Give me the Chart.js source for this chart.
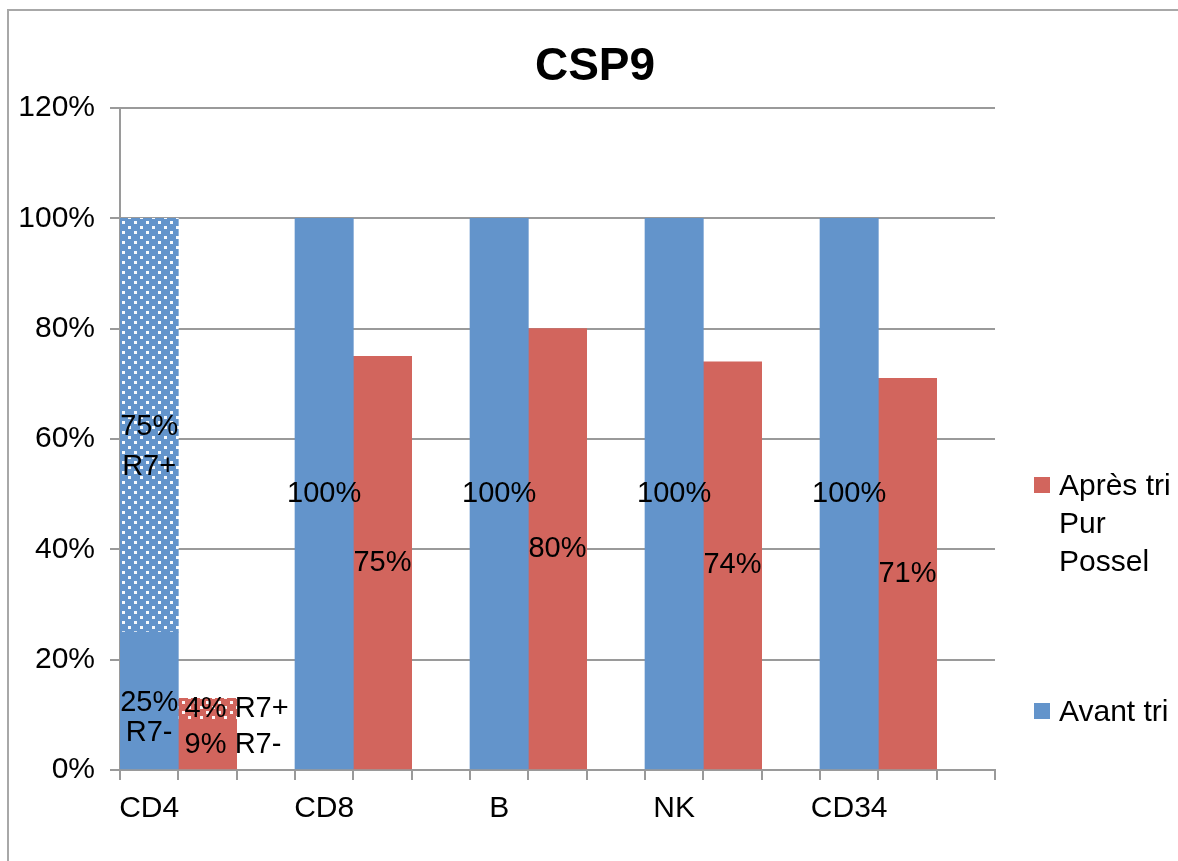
<!DOCTYPE html>
<html>
<head>
<meta charset="utf-8">
<script src="https://cdn.jsdelivr.net/npm/chart.js@4.4.1/dist/chart.umd.min.js"></script>
<style>
  html, body { margin: 0; padding: 0; background: #fff; overflow: hidden; }
  #wrap { position: relative; width: 1178px; height: 861px; overflow: hidden; background: #fff; }
  #frame { position: absolute; left: 7px; top: 9px; width: 1300px; height: 1000px; border: 2px solid #a8a8a8; box-sizing: border-box; }
  canvas { position: absolute; left: 0; top: 0; }
</style>
</head>
<body>
<div id="wrap">
  <div id="frame"></div>
  <canvas id="c" width="1178" height="861"></canvas>
</div>
<script>
// Cell populations
const categories = ['CD4', 'CD8', 'B', 'NK', 'CD34'];
// "Avant tri": solid part (R7- for CD4) and dotted R7+ part, in %
const avantTri      = [25, 100, 100, 100, 100];
const avantTriR7pos = [75, null, null, null, null];
// "Après tri Pur Possel": solid part (R7- for CD4) and dotted R7+ part, in %
const apresTri      = [9, 75, 80, 74, 71];
const apresTriR7pos = [4, null, null, null, null];
// R7 subset tags, only where the bar is split
const tagR7neg = ['R7-', '', '', '', ''];
const tagR7pos = ['R7+', '', '', '', ''];

const BLUE = '#6394cb';
const RED = '#d2655d';
const GRID = '#9a9a9a';
const FONT = '"Liberation Sans", Arial, Helvetica, sans-serif';

// each population uses three slots on the axis: Avant tri, Après tri, gap
const SLOTS = 3;
const slotLabels = [];
categories.forEach(c => slotLabels.push(c, '', ''));
function toSlots(arr, offset) {
  const out = new Array(categories.length * SLOTS).fill(null);
  arr.forEach((v, i) => { if (v !== null) out[i * SLOTS + offset] = v; });
  return out;
}

const canvas = document.getElementById('c');
const mainCtx = canvas.getContext('2d');
function dotted(color) {
  const t = document.createElement('canvas');
  t.width = 12; t.height = 10;
  const g = t.getContext('2d');
  g.fillStyle = color;
  g.fillRect(0, 0, 12, 10);
  g.fillStyle = 'rgba(255,255,255,0.95)';
  g.fillRect(2, 1, 3, 3);
  g.fillRect(8, 6, 3, 3);
  return mainCtx.createPattern(t, 'repeat');
}

// label builders: stacked lines inside the bar, or value with the tag beside the bar
function stacked(ci, v, tags, dy) {
  const tag = tags[ci];
  return tag ? { lines: [v + '%', tag], dy: dy } : { lines: [v + '%'], dy: [0] };
}
function beside(ci, v, tags) {
  const tag = tags[ci];
  return tag ? { lines: [v + '%'], dy: [0], side: tag } : { lines: [v + '%'], dy: [0] };
}

const datasets = [
  { label: 'Avant tri', data: toSlots(avantTri, 0), backgroundColor: BLUE,
    labelFor: (ci, v) => stacked(ci, v, tagR7neg, [2, 32]) },
  { label: 'Avant tri R7+', data: toSlots(avantTriR7pos, 0), backgroundColor: dotted(BLUE),
    labelFor: (ci, v) => stacked(ci, v, tagR7pos, [2, 42]) },
  { label: 'Après tri Pur Possel', data: toSlots(apresTri, 1), backgroundColor: RED,
    labelFor: (ci, v) => beside(ci, v, tagR7neg) },
  { label: 'Après tri R7+', data: toSlots(apresTriR7pos, 1), backgroundColor: dotted(RED),
    labelFor: (ci, v) => beside(ci, v, tagR7pos) }
];
datasets.forEach(d => { d.stack = 's'; d.barPercentage = 1; d.categoryPercentage = 1; d.borderWidth = 0; });

const legendEntries = [
  { lines: ['Après tri', 'Pur', 'Possel'], color: RED, y: 485 },
  { lines: ['Avant tri'], color: BLUE, y: 711 }
];

const valueLabels = {
  id: 'valueLabels',
  afterDatasetsDraw(chart) {
    const ctx = chart.ctx;
    ctx.save();
    ctx.font = '29px ' + FONT;
    ctx.fillStyle = '#000';
    ctx.textBaseline = 'middle';
    chart.data.datasets.forEach((ds, di) => {
      const meta = chart.getDatasetMeta(di);
      meta.data.forEach((bar, si) => {
        const v = ds.data[si];
        if (v === null || v === undefined) return;
        const p = bar.getProps(['x', 'y', 'base', 'width'], true);
        const cy = (p.y + p.base) / 2;
        const spec = ds.labelFor(Math.floor(si / SLOTS), v);
        ctx.textAlign = 'center';
        const x = spec.side ? p.x - 2 : p.x;
        spec.lines.forEach((line, li) => ctx.fillText(line, x, cy + spec.dy[li]));
        if (spec.side) {
          ctx.textAlign = 'left';
          ctx.fillText(spec.side, p.x + p.width / 2 - 2, cy);
        }
      });
    });
    ctx.restore();
  }
};

const titleAndLegend = {
  id: 'titleAndLegend',
  afterDraw(chart) {
    const ctx = chart.ctx;
    ctx.save();
    ctx.fillStyle = '#000';
    ctx.textAlign = 'center';
    ctx.textBaseline = 'middle';
    ctx.font = 'bold 46px ' + FONT;
    ctx.fillText('CSP9', 595, 67);

    ctx.font = '30px ' + FONT;
    ctx.textAlign = 'left';
    legendEntries.forEach(e => {
      ctx.fillStyle = e.color;
      ctx.fillRect(1034, e.y - 8, 16, 16);
      ctx.fillStyle = '#000';
      e.lines.forEach((line, i) => ctx.fillText(line, 1059, e.y + 2 + i * 38));
    });
    ctx.restore();
  }
};

new Chart(canvas, {
  type: 'bar',
  data: { labels: slotLabels, datasets: datasets },
  options: {
    responsive: false,
    animation: false,
    layout: { padding: { top: 108, right: 183, bottom: 0, left: 0 } },
    plugins: { legend: { display: false }, tooltip: { enabled: false }, title: { display: false } },
    scales: {
      x: {
        stacked: true,
        afterFit: s => { s.height = 91; },
        grid: { offset: true, drawOnChartArea: false, color: GRID, lineWidth: 2, tickLength: 10 },
        border: { color: GRID, width: 2 },
        ticks: { autoSkip: false, maxRotation: 0, minRotation: 0, padding: 11, color: '#000',
                 font: { family: FONT, size: 30 } }
      },
      y: {
        stacked: true,
        min: 0, max: 120,
        afterFit: s => { s.width = 120; },
        grid: { color: GRID, lineWidth: 2, tickLength: 10 },
        border: { color: GRID, width: 2 },
        ticks: { stepSize: 20, padding: 15, color: '#000', font: { family: FONT, size: 30 },
                 callback: v => v + '%' }
      }
    }
  },
  plugins: [valueLabels, titleAndLegend]
});
</script>
</body>
</html>
